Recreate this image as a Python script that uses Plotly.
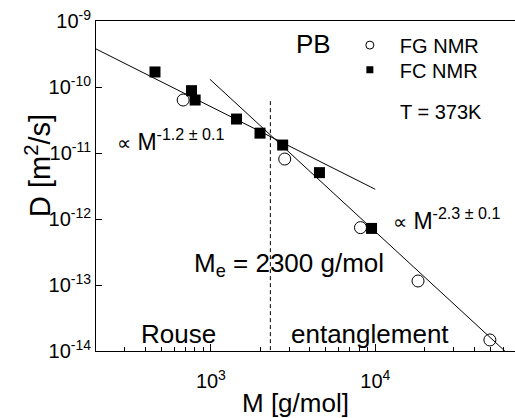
import plotly.graph_objects as go

# ---- data ----
fc_M = [457, 762, 802, 1432, 1990, 2733, 4575, 9490]
fc_D = [1.69e-10, 8.8e-11, 6.35e-11, 3.27e-11, 2.0e-11, 1.32e-11, 5.04e-12, 7.2e-13]

fg_M = [678, 2813, 8128, 18200, 49800]
fg_D = [6.35e-11, 8.1e-12, 7.4e-13, 1.15e-13, 1.47e-14]

rouse_M = [200, 10000]
rouse_D = [3.77e-10, 2.82e-12]

ent_M = [986, 61400]
ent_D = [1.31e-10, 1.0e-14]

Me_M = [2300, 2300]
Me_D = [6.1e-11, 1.0e-14]

y_tickvals = [1e-9, 1e-10, 1e-11, 1e-12, 1e-13, 1e-14]
y_ticktext = ["10<sup>-9</sup>", "10<sup>-10</sup>", "10<sup>-11</sup>",
              "10<sup>-12</sup>", "10<sup>-13</sup>", "10<sup>-14</sup>"]
x_tickvals = [1e3, 1e4]
x_ticktext = ["10<sup>3</sup>", "10<sup>4</sup>"]
x_minor = [m * 10 ** k for k in (2, 3, 4) for m in range(2, 10) if 200 <= m * 10 ** k <= 90000]

FONT = "Liberation Sans, Arial, sans-serif"

fig = go.Figure()
fig.add_trace(go.Scatter(x=rouse_M, y=rouse_D, mode="lines",
                         line=dict(color="black", width=1), showlegend=False))
fig.add_trace(go.Scatter(x=ent_M, y=ent_D, mode="lines",
                         line=dict(color="black", width=1), showlegend=False))
fig.add_trace(go.Scatter(x=Me_M, y=Me_D, mode="lines",
                         line=dict(color="black", width=1, dash="4px,3px"), showlegend=False))
fig.add_trace(go.Scatter(x=fg_M, y=fg_D, mode="markers", showlegend=False,
                         marker=dict(symbol="circle-open", size=12, color="black",
                                     line=dict(width=1, color="black"))))
fig.add_trace(go.Scatter(x=fc_M, y=fc_D, mode="markers", showlegend=False,
                         marker=dict(symbol="square", size=11, color="black")))
# legend entries
fig.add_trace(go.Scatter(x=[None], y=[None], mode="markers", name="FG NMR", legend="legend",
                         marker=dict(symbol="circle-open", size=8, color="black",
                                     line=dict(width=1, color="black"))))
fig.add_trace(go.Scatter(x=[None], y=[None], mode="markers", name="FC NMR", legend="legend2",
                         marker=dict(symbol="square", size=7, color="black")))

def ann(text, x, y, size, xanchor="center", yanchor="middle", angle=0):
    fig.add_annotation(text=text, x=x, y=y, xref="paper", yref="paper",
                       xanchor=xanchor, yanchor=yanchor, showarrow=False,
                       textangle=angle, font=dict(family=FONT, size=size, color="black"))

ann("PB", 0.519, 0.93, 26)
ann("T = 373K", 0.823, 0.724, 20)
ann("<span style='font-size:20px'>∝</span> M<sup>-1.2 ± 0.1</sup>", 0.046, 0.639, 23, xanchor="left")
ann("<span style='font-size:20px'>∝</span> M<sup>-2.3 ± 0.1</sup>", 0.703, 0.40, 23, xanchor="left")
ann("M<sub>e</sub> = 2300 g/mol", 0.229, 0.262, 26, xanchor="left")
ann("Rouse", 0.198, 0.052, 26)
ann("entanglement", 0.653, 0.052, 26)
ann("M [g/mol]", 0.476, -0.158, 26)
ann("D [m<sup>2</sup>/s]", -0.138, 0.561, 29, angle=-90)

leg_common = dict(xanchor="left", yanchor="middle", bgcolor="rgba(0,0,0,0)",
                  font=dict(family=FONT, size=20, color="black"), itemwidth=50)

fig.update_layout(
    width=515, height=418,
    margin=dict(l=96, r=0, t=21, b=67),
    paper_bgcolor="white", plot_bgcolor="white",
    font=dict(family=FONT, size=20, color="black"),
    legend=dict(x=0.582, y=0.927, **leg_common),
    legend2=dict(x=0.582, y=0.852, **leg_common),
    xaxis=dict(type="log", range=[2.30103, 4.85], showgrid=False, zeroline=False,
               showline=True, linecolor="black", linewidth=1, mirror=True,
               ticks="inside", ticklen=7, tickcolor="black",
               tickvals=x_tickvals, ticktext=x_ticktext, ticklabelstandoff=12,
               minor=dict(tickvals=x_minor, ticks="inside", ticklen=4, tickcolor="black",
                          showgrid=False)),
    yaxis=dict(type="log", range=[-14, -9], showgrid=False, zeroline=False,
               showline=True, linecolor="black", linewidth=1, mirror=False,
               ticks="inside", ticklen=6, tickcolor="black",
               tickvals=y_tickvals, ticktext=y_ticktext, ticklabelstandoff=0),
)

fig.write_html("out.html", config={"displayModeBar": False},
               post_script="document.body.style.margin='0px';")
